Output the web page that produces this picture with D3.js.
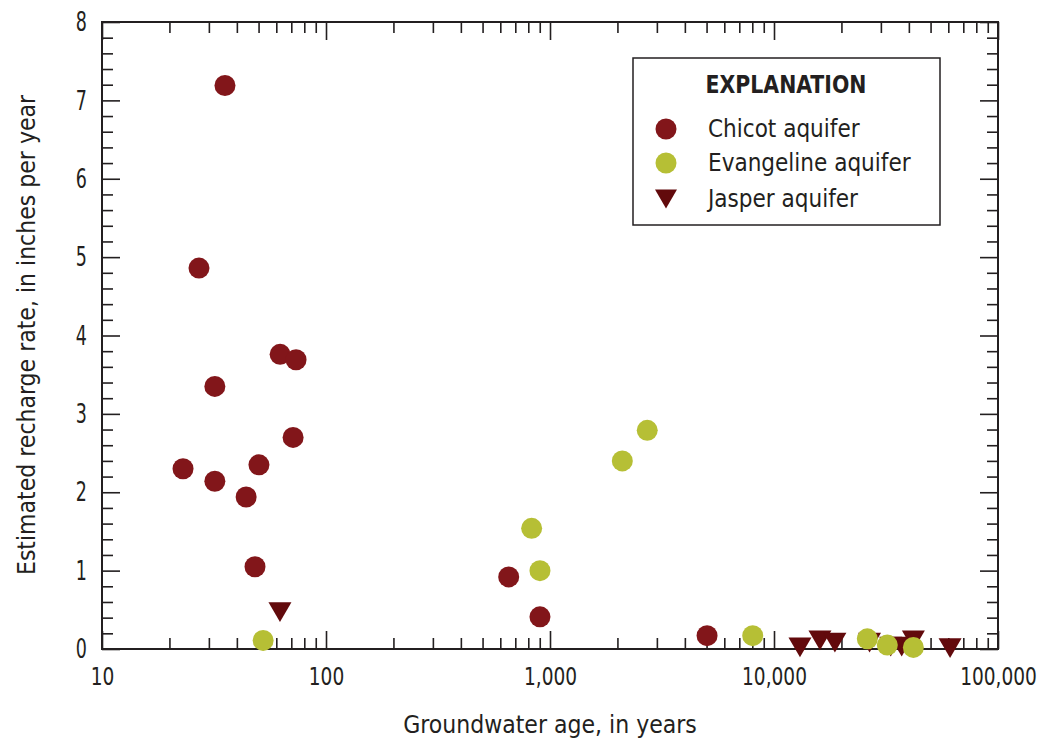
<!DOCTYPE html>
<html>
<head>
<meta charset="utf-8">
<script src="https://cdn.jsdelivr.net/npm/d3@7"></script>
<style>
  body { margin: 0; background: #fff; }
  svg text { font-family: "DejaVu Sans Condensed", "Liberation Sans Narrow", sans-serif; fill: #231f20; }
</style>
</head>
<body>
<svg id="chart" width="1038" height="740"></svg>
<script>
// Values
const chicotAge = [35.4, 27.1, 62.4, 73.5, 31.9, 71.3, 23.0, 50.2, 31.9, 44.0, 48.2, 654, 902, 5025];
const chicotRate = [7.19, 4.86, 3.76, 3.69, 3.35, 2.70, 2.30, 2.35, 2.14, 1.94, 1.05, 0.92, 0.41, 0.17];

const evangelineAge = [52.4, 828, 902, 2103, 2717, 8035, 26100, 32050, 41900];
const evangelineRate = [0.11, 1.54, 1.00, 2.40, 2.79, 0.17, 0.13, 0.05, 0.02];

const jasperAge = [62.3, 13060, 16040, 18700, 26700, 33200, 37150, 41900, 61100];
const jasperRate = [0.47, 0.02, 0.11, 0.08, 0.08, 0.03, 0.03, 0.11, 0.01];

const xTicks = [10, 100, 1000, 10000, 100000];
const yTicks = [0, 1, 2, 3, 4, 5, 6, 7, 8];

const colors = { chicot: "#82161a", evangeline: "#b6bf35", jasper: "#620a0c" };

// Layout
const margin = { top: 22, right: 40, bottom: 91, left: 102 };
const width = 1038 - margin.left - margin.right;
const height = 740 - margin.top - margin.bottom;

const svg = d3.select("#chart");
const g = svg.append("g").attr("transform", `translate(${ margin.left }, ${ margin.top })`);

const x = d3.scaleLog().domain([10, 100000]).range([0, width]);
const y = d3.scaleLinear().domain([0, 8]).range([height, 0]);

const minorX = x.ticks().filter(d => !xTicks.includes(d));
const minorY = d3.range(0, 8.01, 0.2).map(d => +d.toFixed(1)).filter(d => !yTicks.includes(d));

const majorLen = 18, minorLen = 11;

function styleAxis(sel)
{
  sel.select(".domain").remove();
  sel.selectAll("line").attr("stroke", "#231f20").attr("stroke-width", 1.6);
}

// Bottom axis
g.append("g")
  .attr("transform", `translate(0, ${ height })`)
  .call(d3.axisBottom(x).tickValues(xTicks).tickSizeInner(-majorLen).tickPadding(19).tickFormat(d3.format(",")))
  .call(styleAxis)
  .selectAll("text")
  .attr("font-size", "24px")
  .attr("transform", "scale(0.86, 1)");

g.append("g")
  .attr("transform", `translate(0, ${ height })`)
  .call(d3.axisBottom(x).tickValues(minorX).tickSizeInner(-minorLen).tickFormat(""))
  .call(styleAxis);

// Top axis
g.append("g")
  .call(d3.axisTop(x).tickValues(xTicks).tickSizeInner(-majorLen).tickFormat(""))
  .call(styleAxis);
g.append("g")
  .call(d3.axisTop(x).tickValues(minorX).tickSizeInner(-minorLen).tickFormat(""))
  .call(styleAxis);

// Left axis
g.append("g")
  .call(d3.axisLeft(y).tickValues(yTicks).tickSizeInner(-majorLen).tickPadding(21))
  .call(styleAxis)
  .selectAll("text")
  .attr("font-size", "27px")
  .attr("transform", "scale(0.72, 1)");
g.append("g")
  .call(d3.axisLeft(y).tickValues(minorY).tickSizeInner(-minorLen).tickFormat(""))
  .call(styleAxis);

// Right axis
g.append("g")
  .attr("transform", `translate(${ width }, 0)`)
  .call(d3.axisRight(y).tickValues(yTicks).tickSizeInner(-majorLen).tickFormat(""))
  .call(styleAxis);
g.append("g")
  .attr("transform", `translate(${ width }, 0)`)
  .call(d3.axisRight(y).tickValues(minorY).tickSizeInner(-minorLen).tickFormat(""))
  .call(styleAxis);

// Frame
g.append("rect")
  .attr("width", width)
  .attr("height", height)
  .attr("fill", "none")
  .attr("stroke", "#231f20")
  .attr("stroke-width", 2);

// Axis titles
g.append("text")
  .attr("x", width / 2)
  .attr("y", height + 84)
  .attr("text-anchor", "middle")
  .attr("font-size", "24.5px")
  .text("Groundwater age, in years");

g.append("text")
  .attr("transform", "rotate(-90)")
  .attr("x", -313)
  .attr("y", -67)
  .attr("text-anchor", "middle")
  .attr("font-size", "24.5px")
  .text("Estimated recharge rate, in inches per year");

// Down-pointing triangle centred on its bounding box
const tri = (w) => `M${ -w / 2 },${ -w * 0.43 }L${ w / 2 },${ -w * 0.43 }L0,${ w * 0.43 }Z`;

const r = 10.5;

// Draw the points
g.append("g").selectAll("circle")
  .data(chicotAge.map((a, i) => [a, chicotRate[i]]))
  .enter()
  .append("circle")
  .attr("cx", d => x(d[0]))
  .attr("cy", d => y(d[1]))
  .attr("r", r)
  .attr("fill", colors.chicot);

g.append("g").selectAll("path")
  .data(jasperAge.map((a, i) => [a, jasperRate[i]]))
  .enter()
  .append("path")
  .attr("d", tri(23))
  .attr("transform", d => `translate(${ x(d[0]) }, ${ y(d[1]) })`)
  .attr("fill", colors.jasper);

g.append("g").selectAll("circle")
  .data(evangelineAge.map((a, i) => [a, evangelineRate[i]]))
  .enter()
  .append("circle")
  .attr("cx", d => x(d[0]))
  .attr("cy", d => y(d[1]))
  .attr("r", r)
  .attr("fill", colors.evangeline);

// Legend
const legend = svg.append("g").attr("transform", "translate(633, 58)");

legend.append("rect")
  .attr("width", 307)
  .attr("height", 167)
  .attr("fill", "#fff")
  .attr("stroke", "#231f20")
  .attr("stroke-width", 1.5);

legend.append("text")
  .attr("transform", "translate(153, 35) scale(0.91, 1)")
  .attr("text-anchor", "middle")
  .attr("font-size", "25px")
  .attr("font-weight", "bold")
  .text("EXPLANATION");

const legendItems = [
  { label: "Chicot aquifer", color: colors.chicot, shape: "circle", y: 71 },
  { label: "Evangeline aquifer", color: colors.evangeline, shape: "circle", y: 105 },
  { label: "Jasper aquifer", color: colors.jasper, shape: "tri", y: 141 }
];

legendItems.forEach(item =>
{
  if (item.shape === "circle")
  {
    legend.append("circle").attr("cx", 33).attr("cy", item.y).attr("r", r).attr("fill", item.color);
  }
  else
  {
    legend.append("path").attr("d", tri(22)).attr("transform", `translate(33, ${ item.y })`).attr("fill", item.color);
  }
  legend.append("text")
    .attr("x", 75)
    .attr("y", item.y + 8)
    .attr("font-size", "24px")
    .text(item.label);
});
</script>
</body>
</html>
